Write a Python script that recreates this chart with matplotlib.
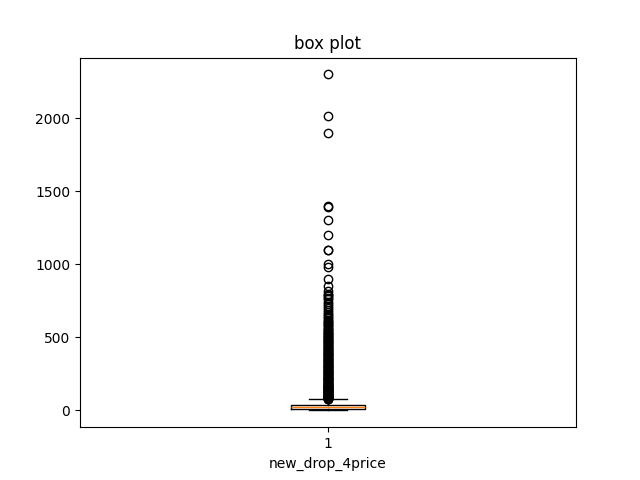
import matplotlib
matplotlib.use("Agg")
from matplotlib import pyplot as plt

# summary stats
q1 = 10
median = 20
q3 = 36
whisker_low = 0
whisker_high = 75

# outliers: a solid column up to about 560, then looser circles, then sparse ones
dense_fliers = [76, 78, 80, 82, 84, 86, 88, 90, 92, 94, 96, 98, 100, 103, 105,
                108, 110, 112, 115, 118, 120, 123, 125, 128, 130, 133, 135, 138,
                140, 143, 145, 148, 150, 153, 155, 158, 160, 163, 165, 168, 170,
                174, 177, 180, 183, 186, 190, 193, 196, 199, 202, 205, 209, 212,
                215, 219, 222, 225, 229, 232, 235, 239, 242, 246, 250, 253, 257,
                260, 264, 268, 272, 275, 279, 283, 287, 290, 294, 298, 302, 306,
                310, 314, 318, 322, 326, 330, 334, 338, 342, 346, 350, 355, 359,
                363, 367, 372, 376, 380, 385, 389, 394, 398, 402, 407, 412, 416,
                420, 425, 430, 434, 439, 444, 448, 452, 458, 462, 467, 472, 477,
                482, 487, 492, 497, 502, 507, 512, 517, 522, 528, 533, 538, 544,
                549, 555, 560]
loose_fliers = [568, 575, 583, 590, 598, 605, 612, 620, 630, 640, 650, 660, 672,
                685, 700, 715, 730, 745, 760, 770, 780, 790, 800, 815]
sparse_fliers = [850, 900, 980, 1000, 1100, 1100, 1200, 1300, 1395, 1400,
                 1900, 2015, 2300]

stats = [{
    "label": "1",
    "med": median,
    "q1": q1,
    "q3": q3,
    "whislo": whisker_low,
    "whishi": whisker_high,
    "fliers": dense_fliers + loose_fliers + sparse_fliers,
}]

fig, ax = plt.subplots(figsize=(6.4, 4.8), dpi=100)
ax.bxp(stats)
ax.set_title("box plot")
ax.set_xlabel("new_drop_4price")
fig.savefig("out.png")
